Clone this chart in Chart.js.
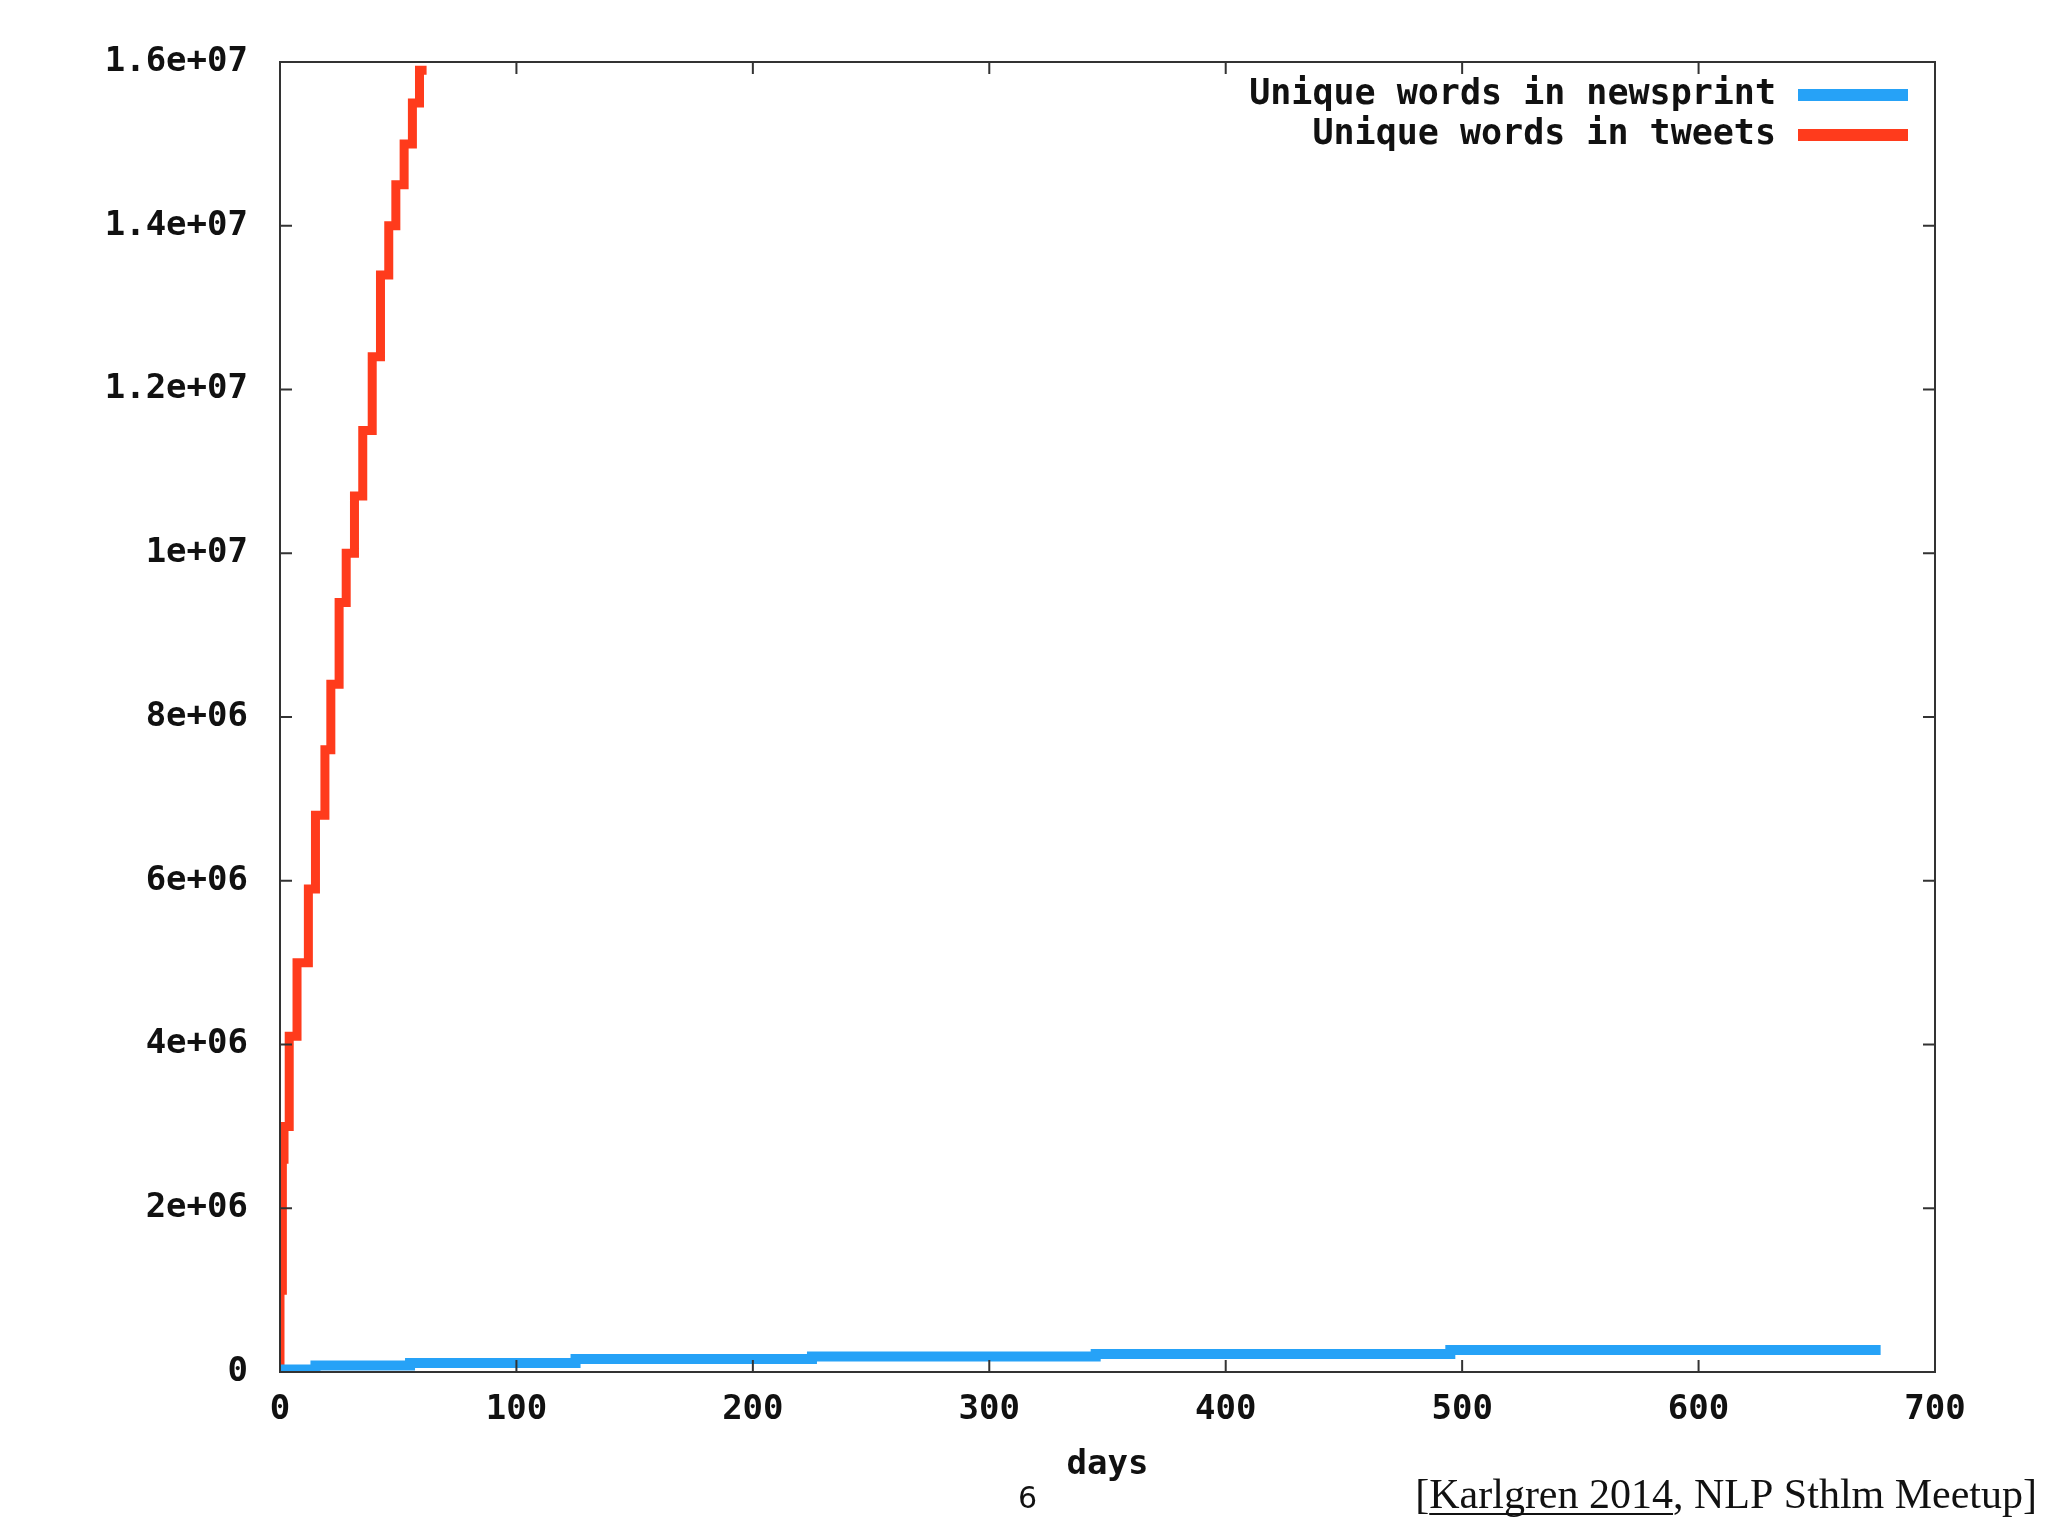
<!DOCTYPE html>
<html>
<head>
<meta charset="utf-8">
<script src="https://cdn.jsdelivr.net/npm/chart.js@4/dist/chart.umd.min.js"></script>
<style>
  html, body { margin: 0; padding: 0; background: #fff; }
  #wrap { width: 2048px; height: 1536px; }
</style>
</head>
<body>
<div id="wrap"><canvas id="c" width="2048" height="1536"></canvas></div>
<script>
// days / values
const tweetDays = [0, 1, 1.7, 3.9, 7.2, 12, 15, 19, 21.5, 25, 28, 31.5, 35, 39, 42.5, 46, 49, 52.5, 56, 59, 62];
const tweetWords = [0, 1.0e6, 2.6e6, 3.0e6, 4.1e6, 5.0e6, 5.9e6, 6.8e6, 7.6e6, 8.4e6, 9.4e6, 10.0e6, 10.7e6, 11.5e6, 12.4e6, 13.4e6, 14.0e6, 14.5e6, 15.0e6, 15.5e6, 15.9e6];
const newsDays = [0, 15, 15, 55, 55, 125, 125, 225, 225, 345, 345, 495, 495, 677];
const newsWords = [30000, 30000, 80000, 80000, 110000, 110000, 160000, 160000, 190000, 190000, 220000, 220000, 270000, 270000];
const xTicks = [0, 100, 200, 300, 400, 500, 600, 700];
const yTickLabels = ['0', '2e+06', '4e+06', '6e+06', '8e+06', '1e+07', '1.2e+07', '1.4e+07', '1.6e+07'];
const seriesNames = ['Unique words in newsprint', 'Unique words in tweets'];
const seriesColors = ['#26a2f7', '#ff3b1c'];

const toPoints = (xs, ys) => xs.map((x, i) => ({ x: x, y: ys[i] }));
const monoFont = '"DejaVu Sans Mono", monospace';

const framePlugin = {
    id: 'frame',
    afterDraw(chart) {
        const ctx = chart.ctx;
        const a = chart.chartArea;
        const xs = chart.scales.x, ys = chart.scales.y;
        ctx.save();
        ctx.strokeStyle = '#333';
        ctx.lineWidth = 2;
        ctx.strokeRect(a.left, a.top, a.right - a.left, a.bottom - a.top);
        // inward ticks on all four sides
        xTicks.forEach(v => {
            const px = xs.getPixelForValue(v);
            ctx.beginPath();
            ctx.moveTo(px, a.bottom); ctx.lineTo(px, a.bottom - 12);
            ctx.moveTo(px, a.top); ctx.lineTo(px, a.top + 12);
            ctx.stroke();
        });
        yTickLabels.forEach((_, i) => {
            const py = ys.getPixelForValue(i * 2e6);
            ctx.beginPath();
            ctx.moveTo(a.left, py); ctx.lineTo(a.left + 12, py);
            ctx.moveTo(a.right, py); ctx.lineTo(a.right - 12, py);
            ctx.stroke();
        });
        // legend
        ctx.font = 'bold 35px ' + monoFont;
        ctx.textAlign = 'right';
        ctx.textBaseline = 'middle';
        seriesNames.forEach((name, i) => {
            const y = 95 + i * 40;
            ctx.fillStyle = '#111';
            ctx.fillText(name, 1776, y);
            ctx.fillStyle = seriesColors[i];
            ctx.fillRect(1798, y - 6, 110, 12);
        });
        // footer
        ctx.fillStyle = '#111';
        ctx.textAlign = 'left';
        ctx.textBaseline = 'alphabetic';
        ctx.font = '30px "DejaVu Sans", sans-serif';
        ctx.fillText('6', 1018, 1508);
        ctx.font = '42px "Liberation Serif", serif';
        const pre = '[', link = 'Karlgren 2014', post = ', NLP Sthlm Meetup]';
        const total = ctx.measureText(pre + link + post).width;
        let x = 2037 - total;
        ctx.fillText(pre, x, 1508);
        x += ctx.measureText(pre).width;
        const lw = ctx.measureText(link).width;
        ctx.fillText(link, x, 1508);
        ctx.fillRect(x, 1513, lw, 2);
        x += lw;
        ctx.fillText(post, x, 1508);
        ctx.restore();
    }
};

new Chart(document.getElementById('c'), {
    type: 'line',
    data: {
        datasets: [
            {
                label: seriesNames[0],
                data: toPoints(newsDays, newsWords),
                borderColor: seriesColors[0],
                borderWidth: 10,
                pointRadius: 0,
                tension: 0,
                borderCapStyle: 'butt'
            },
            {
                label: seriesNames[1],
                data: toPoints(tweetDays, tweetWords),
                borderColor: seriesColors[1],
                borderWidth: 9,
                pointRadius: 0,
                tension: 0,
                stepped: 'after'
            }
        ]
    },
    options: {
        responsive: false,
        animation: false,
        layout: { padding: { top: 62, right: 113, left: 0, bottom: 0 } },
        plugins: { legend: { display: false }, tooltip: { enabled: false } },
        scales: {
            x: {
                type: 'linear',
                min: 0,
                max: 700,
                afterFit: s => { s.height = 164; },
                afterBuildTicks: s => { s.ticks = xTicks.map(v => ({ value: v })); },
                grid: { display: false },
                border: { display: false },
                ticks: {
                    padding: 10,
                    maxRotation: 0,
                    color: '#111',
                    font: { family: monoFont, size: 34, weight: 'bold' }
                },
                title: {
                    display: true,
                    text: 'days',
                    color: '#111',
                    padding: { top: 0, bottom: 50 },
                    font: { family: monoFont, size: 34, weight: 'bold' }
                }
            },
            y: {
                min: 0,
                max: 1.6e7,
                afterFit: s => { s.width = 280; },
                grid: { display: false },
                border: { display: false },
                ticks: {
                    stepSize: 2e6,
                    padding: 24,
                    color: '#111',
                    font: { family: monoFont, size: 34, weight: 'bold' },
                    callback: (v) => yTickLabels[Math.round(v / 2e6)]
                }
            }
        }
    },
    plugins: [framePlugin]
});
</script>
</body>
</html>
